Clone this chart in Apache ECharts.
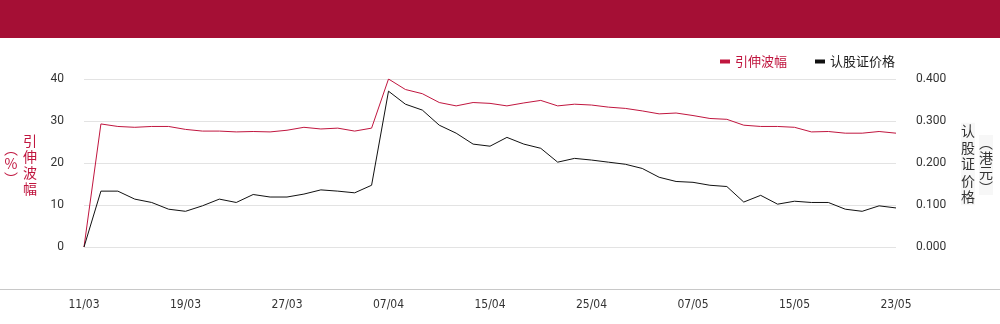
<!DOCTYPE html>
<html>
<head>
<meta charset="utf-8">
<script src="https://cdn.jsdelivr.net/npm/echarts@6/dist/echarts.min.js"></script>
<style>
html,body{margin:0;padding:0;background:#fff;}
#chart{width:1000px;height:324px;}
</style>
</head>
<body>
<div id="chart"></div>
<script>
var dates = ['11/03','12/03','13/03','14/03','17/03','18/03','19/03','20/03','21/03','24/03','25/03','26/03','27/03','28/03','31/03','01/04','02/04','03/04','07/04','08/04','09/04','10/04','11/04','14/04','15/04','16/04','17/04','22/04','23/04','24/04','25/04','28/04','29/04','30/04','02/05','06/05','07/05','08/05','09/05','12/05','13/05','14/05','15/05','16/05','19/05','20/05','21/05','22/05','23/05'];
var impliedVol = [0,29.3,28.7,28.5,28.7,28.7,28.0,27.6,27.6,27.4,27.5,27.4,27.8,28.5,28.1,28.3,27.6,28.3,40.0,37.5,36.5,34.4,33.6,34.4,34.2,33.6,34.3,34.9,33.6,34.0,33.8,33.3,33.0,32.4,31.7,31.9,31.3,30.6,30.4,29.0,28.7,28.7,28.5,27.4,27.5,27.1,27.1,27.5,27.1];
var warrantPrice = [0,0.133,0.133,0.114,0.106,0.090,0.085,0.098,0.114,0.106,0.125,0.119,0.119,0.126,0.136,0.133,0.129,0.147,0.371,0.340,0.326,0.290,0.271,0.245,0.240,0.261,0.245,0.235,0.202,0.211,0.207,0.202,0.197,0.187,0.166,0.156,0.154,0.147,0.144,0.107,0.123,0.102,0.109,0.106,0.106,0.090,0.085,0.098,0.093];
var seriesNames = ['引伸波幅','认股证价格'];
var leftName = ['引伸波幅','（%）'];
var rightName = ['认股证价格','（港元）'];

var RED = '#c0163f';
var chart = echarts.init(document.getElementById('chart'));
function vert(s){ return s.replace(/（/g,'︵').replace(/）/g,'︶').split('').join('\n'); }
chart.setOption({
  animation:false,
  backgroundColor:'#fff',
  grid:{left:84,right:104,top:79,bottom:35},
  legend:{
    right:100, top:50, itemWidth:10, itemHeight:4, itemGap:28,
    icon:'rect',
    textStyle:{fontFamily:'Noto Sans CJK SC', fontSize:13},
    data:[{name:seriesNames[0], textStyle:{color:RED}},{name:seriesNames[1], textStyle:{color:'#222'}}]
  },
  xAxis:{
    type:'category', data:dates, boundaryGap:false,
    axisLine:{show:false}, axisTick:{show:false},
    axisLabel:{interval:5, color:'#333', fontSize:12, fontFamily:'Liberation Sans Narrow, DejaVu Sans Condensed, sans-serif', margin:10},
    splitLine:{show:false}
  },
  yAxis:[{
    type:'value', min:-10, max:40, interval:10,
    axisLine:{show:false}, axisTick:{show:false},
    axisLabel:{color:'#333', fontSize:12, fontFamily:'Roboto', margin:20,
      formatter:function(v){ return v < 0 ? '' : String(v); }},
    splitLine:{lineStyle:{color:'#e3e3e3'}}
  },{
    type:'value', min:-0.1, max:0.4, interval:0.1,
    axisLine:{show:false}, axisTick:{show:false},
    axisLabel:{color:'#333', fontSize:12, fontFamily:'Roboto', margin:20,
      formatter:function(v){ return v < -0.0001 ? '' : v.toFixed(3); }},
    splitLine:{show:false}
  }],
  graphic:[
    {type:'rect', left:0, top:0, shape:{width:1000, height:38}, style:{fill:'#a50f35'}},
    {type:'line', shape:{x1:0,y1:289.5,x2:1000,y2:289.5}, style:{stroke:'#c8c8c8', lineWidth:1}, z:10},
    {type:'text', x:30, y:165, style:{text:vert(leftName[0]), fill:RED, font:'14px "Noto Sans CJK SC"', lineHeight:16, align:'center', verticalAlign:'middle'}},
    {type:'text', x:11, y:164, style:{text:vert(leftName[1]), fill:RED, font:'14px "Noto Sans CJK SC"', lineHeight:15, align:'center', verticalAlign:'middle'}},
    {type:'text', x:968, y:164, style:{text:vert(rightName[0]), fill:'#333', font:'14px "Noto Sans CJK SC"', lineHeight:16.5, align:'center', verticalAlign:'middle', backgroundColor:'#f7f7f7'}},
    {type:'text', x:986, y:165, style:{text:vert(rightName[1]), fill:'#333', font:'14px "Noto Sans CJK SC"', lineHeight:15, align:'center', verticalAlign:'middle', backgroundColor:'#f7f7f7'}}
  ],
  series:[{
    name:seriesNames[0], type:'line', data:impliedVol, yAxisIndex:0,
    showSymbol:false, symbol:'none', lineStyle:{color:RED, width:1}, itemStyle:{color:RED}
  },{
    name:seriesNames[1], type:'line', data:warrantPrice, yAxisIndex:1,
    showSymbol:false, symbol:'none', lineStyle:{color:'#111', width:1}, itemStyle:{color:'#111'}
  }]
});
</script>
</body>
</html>
